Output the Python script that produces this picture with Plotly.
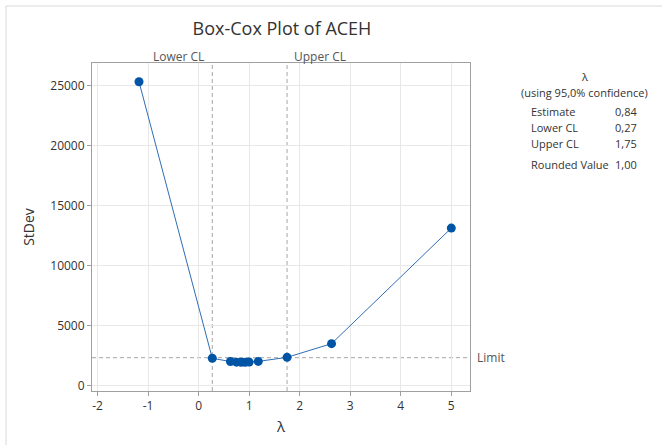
import plotly.graph_objects as go

# ---- data ----
lambdas = [-1.18, 0.27, 0.63, 0.75, 0.84, 0.92, 1.00, 1.18, 1.75, 2.63, 5.00]
stdevs = [25300, 2250, 1980, 1930, 1920, 1925, 1935, 1990, 2330, 3470, 13100]
lower_cl = 0.27
upper_cl = 1.75
limit = 2300
x_ticks = [-2, -1, 0, 1, 2, 3, 4, 5]
y_ticks = [0, 5000, 10000, 15000, 20000, 25000]
table_labels = ["Estimate", "Lower CL", "Upper CL", "Rounded Value"]
table_values = ["0,84", "0,27", "1,75", "1,00"]

W, H = 662, 445
L, R, T, B = 92, 470, 63, 391
FONT = "Open Sans, Noto Sans, sans-serif"
TXT = "#333333"
DASH = "4px,3px"


def px(x):
    return (x - L) / (R - L)


def py(y):
    return (B - y) / (B - T)


fig = go.Figure()
fig.add_trace(go.Scatter(
    x=lambdas, y=stdevs, mode="lines+markers",
    line=dict(color="#2f6db5", width=1),
    marker=dict(color="#0054a6", size=9),
    showlegend=False, hoverinfo="x+y",
))

shapes = [
    # outer frame
    dict(type="rect", xref="paper", yref="paper", x0=px(6), x1=px(700), y0=py(6), y1=py(480),
         line=dict(color="#d9d9d9", width=1), layer="below"),
    dict(type="line", xref="x", yref="paper", x0=lower_cl, x1=lower_cl, y0=0, y1=1,
         line=dict(color="#a6a6a6", width=1, dash=DASH), layer="below"),
    dict(type="line", xref="x", yref="paper", x0=upper_cl, x1=upper_cl, y0=0, y1=1,
         line=dict(color="#a6a6a6", width=1, dash=DASH), layer="below"),
    dict(type="line", xref="paper", yref="y", x0=0, x1=1, y0=limit, y1=limit,
         line=dict(color="#a6a6a6", width=1, dash=DASH), layer="below"),
]

ann = [
    dict(text="Lower CL", xref="x", yref="paper", x=lower_cl, y=py(57), xanchor="right",
         xshift=-6, yanchor="middle", showarrow=False, font=dict(size=12, color="#555")),
    dict(text="Upper CL", xref="x", yref="paper", x=upper_cl, y=py(57), xanchor="left",
         xshift=5, yanchor="middle", showarrow=False, font=dict(size=12, color="#555")),
    dict(text="Limit", xref="paper", yref="y", x=px(475), y=limit, xanchor="left",
         yanchor="middle", showarrow=False, font=dict(size=12, color="#555")),
    dict(text="λ", xref="paper", yref="paper", x=px(584), y=py(76), xanchor="center",
         yanchor="middle", showarrow=False, font=dict(size=11, color=TXT)),
    dict(text="(using 95,0% confidence)", xref="paper", yref="paper", x=px(584), y=py(93),
         xanchor="center", yanchor="middle", showarrow=False, font=dict(size=11, color=TXT)),
]
rows_y = [111, 128, 143, 164]
for lab, val, yy in zip(table_labels, table_values, rows_y):
    ann.append(dict(text=lab, xref="paper", yref="paper", x=px(529), y=py(yy), xanchor="left",
                    yanchor="middle", showarrow=False, font=dict(size=11, color=TXT)))
    ann.append(dict(text=val, xref="paper", yref="paper", x=px(639), y=py(yy), xanchor="right",
                    yanchor="middle", showarrow=False, font=dict(size=11, color=TXT)))

fig.update_layout(
    width=W, height=H,
    margin=dict(l=L, r=W - R, t=T, b=H - B),
    paper_bgcolor="white", plot_bgcolor="white",
    font=dict(family=FONT, color=TXT, size=12),
    title=dict(text="Box-Cox Plot of ACEH", x=282 / W, xanchor="center",
               y=1 - 29 / H, yanchor="middle", font=dict(size=18, color=TXT)),
    shapes=shapes, annotations=ann,
    xaxis=dict(range=[-2.11, 5.37], tickvals=x_ticks, ticktext=[str(v) for v in x_ticks],
               showgrid=True, gridcolor="#e8e8e8", zeroline=False,
               showline=True, linecolor="#a0a0a0", linewidth=1, mirror=True,
               ticks="outside", ticklen=4, tickcolor="#a0a0a0",
               tickfont=dict(size=12, color=TXT),
               title=dict(text="λ", font=dict(size=15, color=TXT), standoff=8)),
    yaxis=dict(range=[-475, 26860], tickvals=y_ticks, ticktext=[str(v) for v in y_ticks],
               showgrid=True, gridcolor="#e8e8e8", zeroline=False,
               showline=True, linecolor="#a0a0a0", linewidth=1, mirror=True,
               ticks="outside", ticklen=4, tickcolor="#a0a0a0",
               tickfont=dict(size=12, color=TXT),
               title=dict(text="StDev", font=dict(size=14, color=TXT), standoff=12)),
)

fig.write_html("out.html", config={"displayModeBar": False},
               post_script="document.body.style.margin='0px';")
